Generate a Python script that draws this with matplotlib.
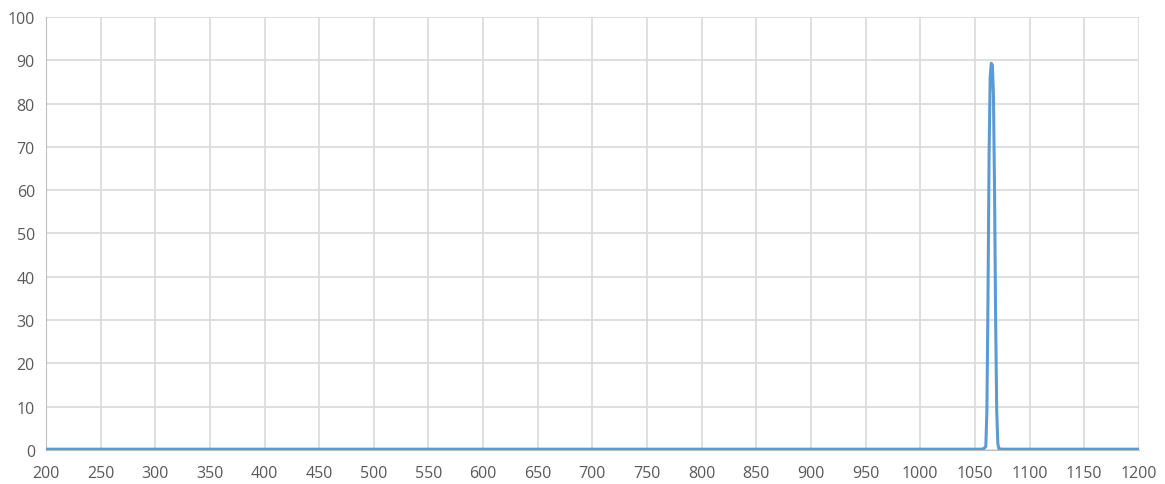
import matplotlib.pyplot as plt

# Transmission spectrum (wavelength in nm, transmission in %)
wavelength = [200, 400, 600, 800, 1000, 1055, 1058, 1060, 1061, 1062, 1063, 1064,
              1065, 1066, 1067, 1068, 1069, 1070, 1071, 1072, 1075, 1100, 1200]
transmission = [0.2, 0.2, 0.2, 0.2, 0.2, 0.2, 0.3, 0.8, 9, 35, 68, 86,
                89.3, 88.9, 82, 60, 30, 9, 1.5, 0.3, 0.2, 0.2, 0.2]

x_ticks = list(range(200, 1201, 50))
y_ticks = list(range(0, 101, 10))

plt.rcParams['font.family'] = ['Open Sans', 'DejaVu Sans']

fig = plt.figure(figsize=(11.65, 4.85), dpi=100)
ax = fig.add_axes([0.0395, 0.070, 0.938, 0.893])

ax.plot(wavelength, transmission, color='#5B9BD5', linewidth=2.2, zorder=3)

ax.set_xlim(200, 1200)
ax.set_ylim(0, 100)
ax.set_xticks(x_ticks)
ax.set_yticks(y_ticks)
ax.grid(True, color='#D9D9D9', linewidth=1.2)
ax.set_axisbelow(True)

for side in ['top', 'right']:
    ax.spines[side].set_visible(False)
ax.spines['left'].set_color('#BFBFBF')
ax.spines['bottom'].set_color('#BFBFBF')
ax.tick_params(length=0, labelsize=11.5, labelcolor='#595959')
ax.tick_params(axis='x', pad=11)
ax.tick_params(axis='y', pad=8)

plt.savefig("out.png", dpi=100)
